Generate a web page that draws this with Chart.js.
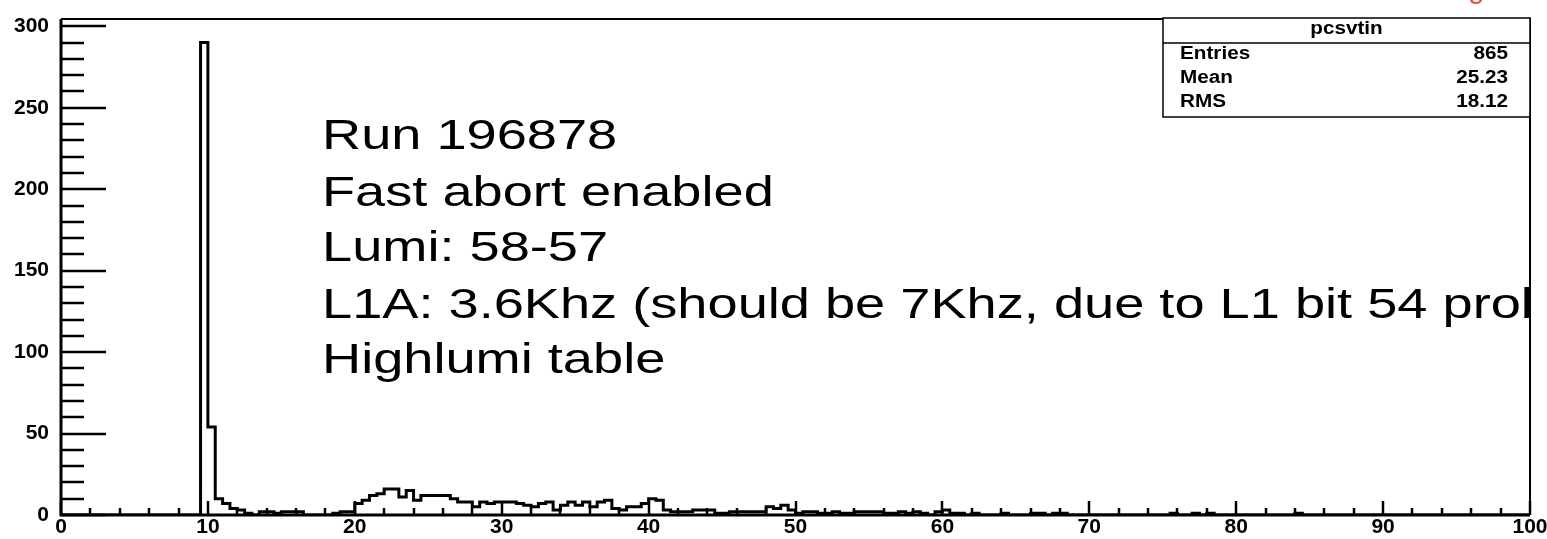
<!DOCTYPE html>
<html>
<head>
<meta charset="utf-8">
<script src="https://cdn.jsdelivr.net/npm/chart.js@4/dist/chart.umd.min.js"></script>
<style>
  html, body { margin: 0; padding: 0; background: #fff; }
  #wrap { width: 1547px; height: 539px; }
</style>
</head>
<body>
<div id="wrap"><canvas id="c" width="1547" height="539"></canvas></div>
<script>
// ---- data ----
const histName = 'pcsvtin';
const xMin = 0;
const xMax = 100;
const binWidth = 0.5;
const counts = [
  0,0,0,0,0,0,0,0,0,0, 0,0,0,0,0,0,0,0,0,290,
  54,10,7,4,3,1,0,2,2,1, 2,2,2,0,0,0,0,1,2,2,
  7,9,12,13,16,16,11,15,9,12, 12,12,12,10,8,8,5,8,7,8,
  8,8,7,6,5,7,8,3,6,8, 6,8,5,8,9,4,3,5,5,7,
  10,9,3,2,2,2,3,3,3,1, 1,2,2,2,2,2,5,4,6,3,
  1,2,2,1,1,2,1,1,2,2, 2,2,1,1,2,1,2,1,0,2,
  3,1,1,0,1,0,0,0,1,0, 0,0,1,1,0,1,1,0,0,0,
  0,0,0,0,0,0,0,0,0,0, 0,1,0,0,1,0,1,0,0,0,
  0,0,0,0,0,0,0,0,1,0, 0,0,0,0,0,0,0,0,0,0,
  0,0,0,0,0,0,0,0,0,0, 0,0,0,0,0,0,0,0,0,0
];
const xTickLabels = [0,10,20,30,40,50,60,70,80,90,100];
const yTickLabels = [0,50,100,150,200,250,300];
const yMax = 304.5;
const statsLabels = ['Entries','Mean','RMS'];
const statsValues = ['865','25.23','18.12'];
const noteLines = [
  'Run 196878',
  'Fast abort enabled',
  'Lumi: 58-57',
  'L1A: 3.6Khz (should be 7Khz, due to L1 bit 54 problem)',
  'Highlumi table'
];

// ---- build step points from bins ----
const pts = [{x: xMin, y: 0}];
counts.forEach((c, i) => pts.push({x: xMin + i * binWidth, y: c}));
pts.push({x: xMax, y: 0});

const FONT = "'Liberation Sans', Arial, Helvetica, sans-serif";

function stretchText(ctx, text, x, y, sx) {
  ctx.save();
  ctx.translate(x, y);
  ctx.scale(sx, 1);
  ctx.fillText(text, 0, 0);
  ctx.restore();
}

const framePlugin = {
  id: 'rootFrame',
  afterDatasetsDraw(chart) {
    const ctx = chart.ctx;
    const a = chart.chartArea;
    const xs = chart.scales.x, ys = chart.scales.y;
    ctx.save();
    ctx.strokeStyle = '#000';
    ctx.lineWidth = 2;
    ctx.beginPath();
    ctx.moveTo(a.left, a.top); ctx.lineTo(a.right, a.top); ctx.lineTo(a.right, a.bottom);
    ctx.stroke();
    ctx.lineWidth = 2.5;
    for (let v = 0; v <= 300; v += 10) {
      const y = Math.round(ys.getPixelForValue(v));
      const len = (v % 50 === 0) ? 45 : 23;
      ctx.beginPath(); ctx.moveTo(a.left, y); ctx.lineTo(a.left + len, y); ctx.stroke();
    }
    for (let v = 0; v <= 100; v += 2) {
      const x = Math.round(xs.getPixelForValue(v));
      const len = (v % 10 === 0) ? 14 : 7;
      ctx.beginPath(); ctx.moveTo(x, a.bottom); ctx.lineTo(x, a.bottom - len); ctx.stroke();
    }
    ctx.lineWidth = 3;
    ctx.beginPath();
    ctx.moveTo(a.left, a.top); ctx.lineTo(a.left, a.bottom); ctx.lineTo(a.right, a.bottom);
    ctx.stroke();
    ctx.restore();
  },
  afterDraw(chart) {
    const ctx = chart.ctx;
    const a = chart.chartArea;
    ctx.save();
    ctx.beginPath(); ctx.rect(0, 0, a.right + 1, chart.height); ctx.clip();
    ctx.fillStyle = '#000';
    ctx.font = '42px ' + FONT;
    ctx.textBaseline = 'alphabetic';
    ctx.textAlign = 'left';
    const baselines = [149, 206, 261, 318, 373];
    noteLines.forEach((t, i) => stretchText(ctx, t, 322, baselines[i], 1.29));
    ctx.restore();

    // stats box
    ctx.save();
    const bx = 1163, by = 18, bw = a.right - 1163, bh = 99;
    ctx.fillStyle = '#fff';
    ctx.fillRect(bx, by, bw, bh);
    ctx.strokeStyle = '#000';
    ctx.lineWidth = 1.5;
    ctx.strokeRect(bx, by, bw, bh);
    ctx.beginPath(); ctx.moveTo(bx, by + 25); ctx.lineTo(bx + bw, by + 25); ctx.stroke();
    ctx.fillStyle = '#000';
    ctx.font = 'bold 18px ' + FONT;
    ctx.textBaseline = 'middle';
    const sx = 1.15;
    const tw = ctx.measureText(histName).width * sx;
    stretchText(ctx, histName, bx + bw / 2 - tw / 2, by + 11, sx);
    statsLabels.forEach((l, i) => {
      const y = by + 36 + i * 24;
      stretchText(ctx, l, bx + 17, y, sx);
      const vw = ctx.measureText(statsValues[i]).width * sx;
      stretchText(ctx, statsValues[i], bx + bw - 22 - vw, y, sx);
    });
    ctx.fillStyle = '#e8503c';
    ctx.font = '30px ' + FONT;
    ctx.textBaseline = 'alphabetic';
    ctx.fillText('g', 1468, -2);
    ctx.restore();
  }
};

new Chart(document.getElementById('c'), {
  type: 'line',
  data: {
    datasets: [{
      data: pts,
      stepped: 'before',
      borderColor: '#000',
      borderWidth: 3,
      pointRadius: 0,
      fill: false,
      tension: 0
    }]
  },
  options: {
    responsive: false,
    animation: false,
    devicePixelRatio: 1,
    layout: { padding: { left: 0, right: 17, top: 19, bottom: 0 } },
    plugins: { legend: { display: false }, tooltip: { enabled: false } },
    scales: {
      x: {
        type: 'linear', min: xMin, max: xMax,
        afterFit(s) { s.height = 24; s.paddingLeft = 0; s.paddingRight = 0; },
        afterBuildTicks(s) { s.ticks = xTickLabels.map(v => ({value: v})); },
        grid: { display: false, drawTicks: false },
        border: { display: false },
        ticks: { color: '#000', font: { family: FONT, size: 21, weight: 'bold' }, padding: 0, maxRotation: 0, autoSkip: false }
      },
      y: {
        type: 'linear', min: 0, max: yMax,
        afterFit(s) { s.width = 61; s.paddingTop = 0; s.paddingBottom = 0; },
        afterBuildTicks(s) { s.ticks = yTickLabels.map(v => ({value: v})); },
        grid: { display: false, drawTicks: false },
        border: { display: false },
        ticks: { color: '#000', font: { family: FONT, size: 21, weight: 'bold' }, padding: 12, autoSkip: false }
      }
    }
  },
  plugins: [framePlugin]
});
</script>
</body>
</html>
